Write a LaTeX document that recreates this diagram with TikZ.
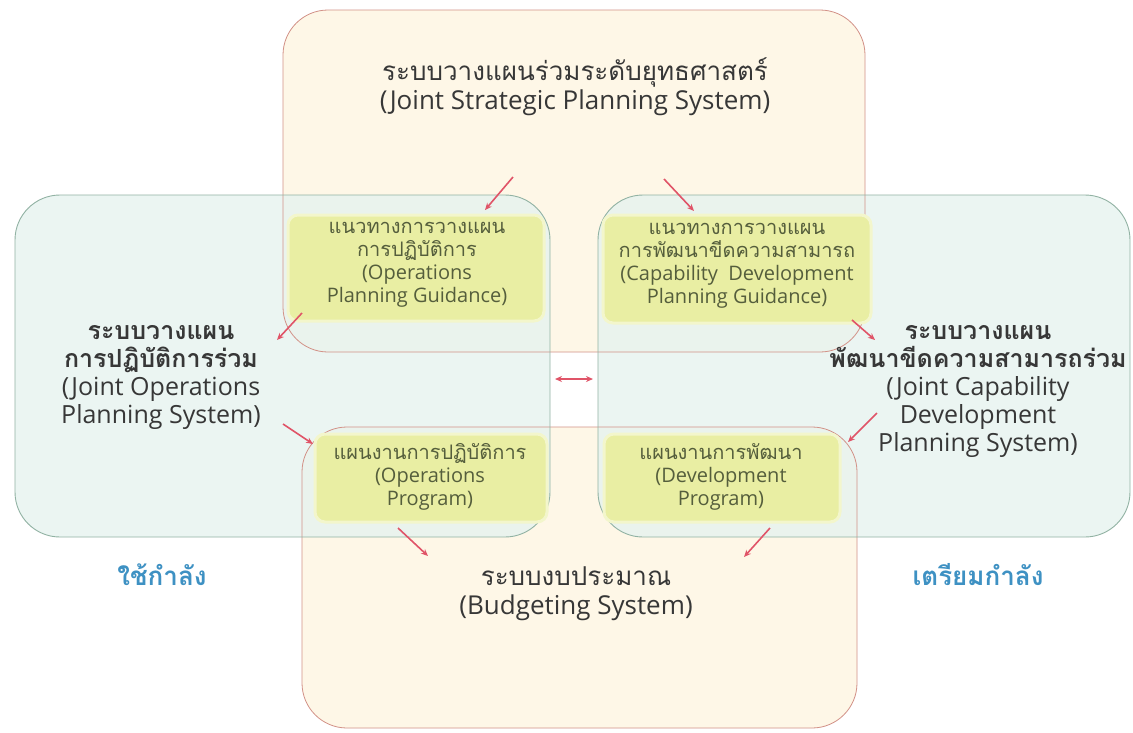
\documentclass[tikz,border=0pt]{standalone}
\usepackage{fontspec}
\setmainfont{Open Sans}
\newfontfamily\thaifont[Script=Thai]{Loma}
\usetikzlibrary{arrows.meta}
\definecolor{cream}{RGB}{254,247,231}
\definecolor{creamline}{RGB}{210,145,135}
\definecolor{greenfill}{RGB}{230,243,239}
\definecolor{greenline}{RGB}{145,178,163}
\definecolor{yellowbox}{RGB}{233,238,163}
\definecolor{arrowred}{RGB}{224,84,104}
\definecolor{bluetxt}{RGB}{62,145,195}
\definecolor{titletxt}{RGB}{55,55,55}
\definecolor{innertxt}{RGB}{85,94,60}
\begin{document}
\begin{tikzpicture}[x=1pt,y=-1pt,
  creambox/.style={fill=cream, rounded corners=45pt, inner sep=0pt, outer sep=0pt},
  creamedge/.style={draw=creamline, line width=0.8pt, rounded corners=45pt, inner sep=0pt, outer sep=0pt},
  greenbox/.style={fill=greenfill, fill opacity=0.8, rounded corners=45pt, inner sep=0pt, outer sep=0pt},
  greenedge/.style={draw=greenline, line width=0.9pt, rounded corners=45pt, inner sep=0pt, outer sep=0pt},
  ybox/.style={fill=yellowbox, draw=yellowbox!55!white, line width=3pt, rounded corners=10pt, inner sep=0pt},
  redarrow/.style={draw=arrowred, line width=1.6pt, -{Stealth[length=7pt,width=6pt]}},
  bigtitle/.style={text=titletxt, align=center, font=\fontsize{26}{29}\selectfont},
  sidetitle/.style={text=titletxt, align=center, font=\fontsize{25}{28}\selectfont},
  innertext/.style={text=innertxt, align=center, font=\fontsize{20}{23}\selectfont},
  bluelabel/.style={text=bluetxt, font=\fontsize{26}{30}\selectfont\thaifont\bfseries}
]
\useasboundingbox (0,0) rectangle (1133,732);
\fill[white] (0,0) rectangle (1133,732);

% large system boxes
\node[creambox, minimum width=582pt, minimum height=342pt] (top) at (574,181) {};
\node[creambox, minimum width=555pt, minimum height=301pt] (bot) at (579.5,577.5) {};
\node[greenbox, minimum width=535pt, minimum height=342pt] (lgr) at (282.5,366) {};
\node[greenbox, minimum width=532pt, minimum height=342pt] (rgr) at (864,366) {};
\node[creamedge, minimum width=582pt, minimum height=342pt] (topE) at (top.center) {};
\node[creamedge, minimum width=555pt, minimum height=301pt] (botE) at (bot.center) {};
\node[greenedge, minimum width=535pt, minimum height=342pt] (lgrE) at (lgr.center) {};
\node[greenedge, minimum width=532pt, minimum height=342pt] (rgrE) at (rgr.center) {};

% inner boxes
\node[ybox, minimum width=256pt, minimum height=106pt] (opg) at (416,268) {};
\node[ybox, minimum width=268pt, minimum height=108pt] (cdpg) at (737,269) {};
\node[ybox, minimum width=232pt, minimum height=88pt] (op) at (431,478) {};
\node[ybox, minimum width=236pt, minimum height=88pt] (dp) at (722,478) {};

% texts
\node[bigtitle] (ttop) at (575,87) {{\thaifont ระบบวางแผนร่วมระดับยุทธศาสตร์}\\(Joint Strategic Planning System)};
\node[sidetitle] (tleft) at (161,377) {{\thaifont\bfseries ระบบวางแผน}\\{\thaifont\bfseries การปฏิบัติการร่วม}\\(Joint Operations\\Planning System)};
\node[sidetitle] (tright) at (978,391) {{\thaifont\bfseries ระบบวางแผน}\\{\thaifont\bfseries พัฒนาขีดความสามารถร่วม}\\(Joint Capability\\Development\\Planning System)};
\node[bigtitle] (tbot) at (576,594) {{\thaifont ระบบงบประมาณ}\\(Budgeting System)};

\node[innertext] (topg) at (417,265) {{\thaifont แนวทางการวางแผน}\\{\thaifont การปฏิบัติการ}\\(Operations\\Planning Guidance)};
\node[innertext] (tcdpg) at (737,266) {{\thaifont แนวทางการวางแผน}\\{\thaifont การพัฒนาขีดความสามารถ}\\(Capability\ \ Development\\Planning Guidance)};
\node[innertext] (top2) at (430,477) {{\thaifont แผนงานการปฏิบัติการ}\\(Operations\\Program)};
\node[innertext] (tdp) at (721,477) {{\thaifont แผนงานการพัฒนา}\\(Development\\Program)};

\node[bluelabel] (use) at (162,575) {ใช้กำลัง};
\node[bluelabel] (prep) at (978,575) {เตรียมกำลัง};

% arrows
\coordinate (a1s) at (513,177); \coordinate (a1e) at (485,210);
\coordinate (a2s) at (664,179); \coordinate (a2e) at (694,211);
\coordinate (a3s) at (302,313); \coordinate (a3e) at (277,340);
\coordinate (a4s) at (283,424); \coordinate (a4e) at (313,444);
\coordinate (a5s) at (852,320); \coordinate (a5e) at (875,340);
\coordinate (a6s) at (877,413); \coordinate (a6e) at (848,442);
\coordinate (a7s) at (398,528); \coordinate (a7e) at (428,556);
\coordinate (a8s) at (770,528); \coordinate (a8e) at (744,557);
\coordinate (dl) at (555,379); \coordinate (dr) at (593,379);
\draw[redarrow] (a1s) -- (a1e);
\draw[redarrow] (a2s) -- (a2e);
\draw[redarrow] (a3s) -- (a3e);
\draw[redarrow] (a4s) -- (a4e);
\draw[redarrow] (a5s) -- (a5e);
\draw[redarrow] (a6s) -- (a6e);
\draw[redarrow] (a7s) -- (a7e);
\draw[redarrow] (a8s) -- (a8e);
\draw[draw=arrowred, line width=1.6pt, {Stealth[length=7pt,width=6pt]}-{Stealth[length=7pt,width=6pt]}] (dl) -- (dr);
\end{tikzpicture}
\end{document}
